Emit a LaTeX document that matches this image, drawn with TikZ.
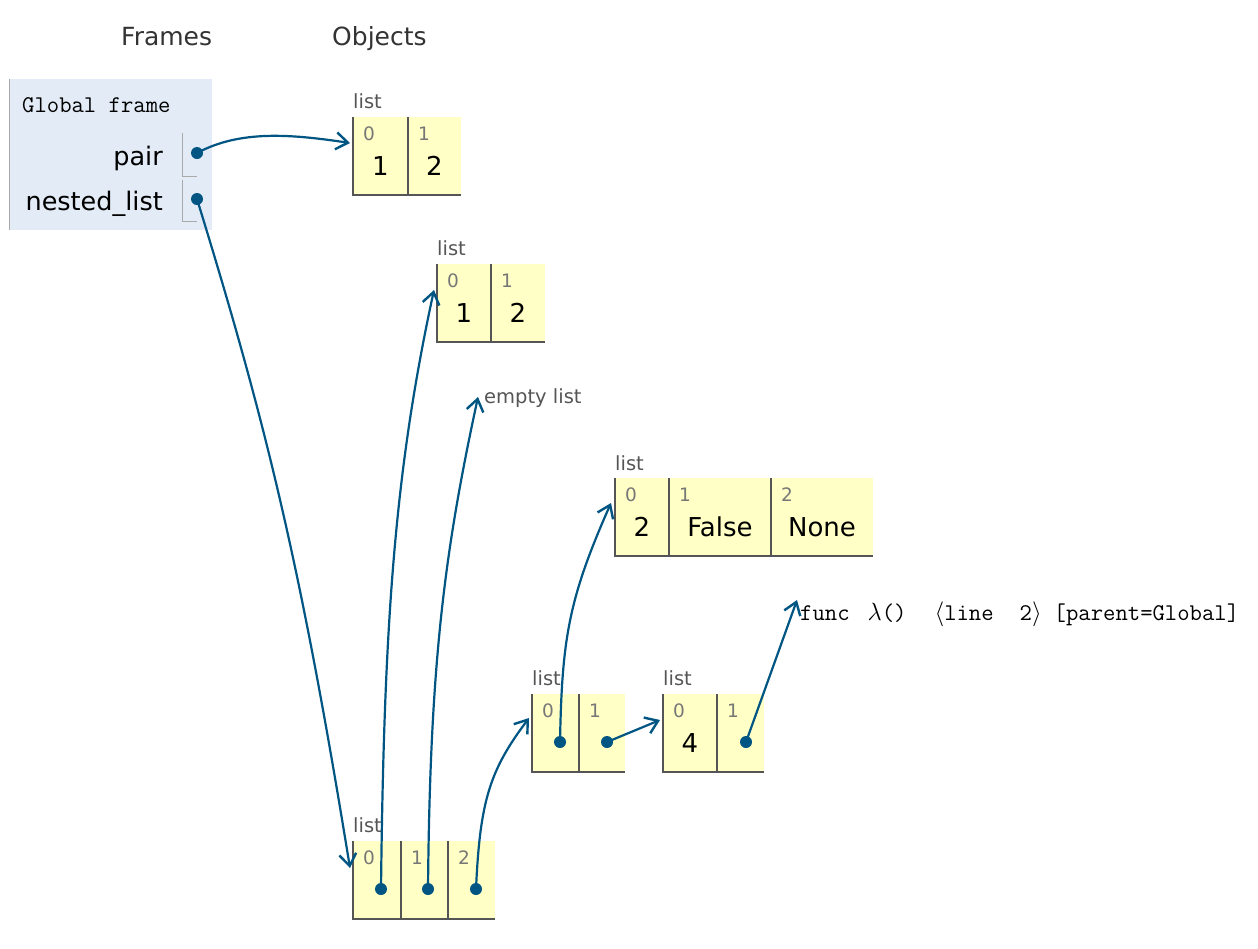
\documentclass[tikz,border=0pt]{standalone}
\usepackage{fontspec}
\setmainfont{DejaVu Sans}
\setmonofont{Latin Modern Mono}
\usetikzlibrary{arrows.meta}
\definecolor{cellfill}{HTML}{FFFFC6}
\definecolor{cellborder}{HTML}{555555}
\definecolor{idxcol}{HTML}{777777}
\definecolor{framefill}{HTML}{E2EBF6}
\definecolor{framegray}{HTML}{AAAAAA}
\definecolor{ptr}{HTML}{005583}
\definecolor{headcol}{HTML}{333333}
\tikzset{
  cellnode/.style={anchor=north west, fill=cellfill, minimum height=78pt, inner sep=0pt, outer sep=0pt},
  cellline/.style={draw=cellborder, line width=1.3pt},
  idx/.style={text=idxcol, font=\fontsize{18.5}{20}\selectfont, inner sep=0pt},
  val/.style={text=black, font=\fontsize{26}{30}\selectfont, inner sep=0pt},
  lbl/.style={text=cellborder, font=\fontsize{19.5}{22}\selectfont, inner sep=0pt, anchor=base west},
  head/.style={text=headcol, font=\fontsize{25}{28}\selectfont, inner sep=0pt, anchor=base west},
  varname/.style={text=black, font=\fontsize{25.5}{28}\selectfont, inner sep=0pt, anchor=base east},
  ptrline/.style={draw=ptr, line width=2.2pt, -{Straight Barb[length=12pt,width=17pt,line width=2.4pt]}},
  ptrdot/.style={circle, fill=ptr, minimum size=12pt, inner sep=0pt},
  monotext/.style={text=black, font=\fontsize{24}{27}\ttfamily, inner sep=0pt, anchor=base west}
}
\newcommand\mkcell[6]{% name, x, ytop, width, index, value
  \node[cellnode, minimum width=#4pt] (#1) at (#2,#3) {};
  \draw[cellline] (#1.north west) -- (#1.south west) -- (#1.south east);
  \node[idx] (#1i) at ([xshift=16pt,yshift=-17pt]#1.north west) {#5};
  \node[val] (#1v) at ([yshift=-49pt]#1.north) {#6};
}
\begin{document}
\begin{tikzpicture}[x=1pt,y=-1pt]
\useasboundingbox (0,0) rectangle (1258,948);
% headings
\node[head] (hframes) at (121,45) {Frames};
\node[head] (hobjects) at (332,45) {Objects};
% global frame
\node[anchor=north west, fill=framefill, minimum width=203pt, minimum height=151pt, inner sep=0pt] (gf) at (9,79) {};
\draw[framegray, line width=1pt] (gf.north west) -- (gf.south west);
\node[monotext] (gftitle) at (22,112) {Global frame};
\node[varname] (vpair) at (163,165) {pair};
\node[varname] (vnested) at (163,210) {nested\_list};
\coordinate (b1t) at (182,133);
\coordinate (b1b) at (182,176);
\coordinate (b1r) at (197,176);
\coordinate (b2t) at (182,180);
\coordinate (b2b) at (182,221);
\coordinate (b2r) at (197,221);
\draw[framegray, line width=1pt] (b1t) -- (b1b) -- (b1r);
\draw[framegray, line width=1pt] (b2t) -- (b2b) -- (b2r);
\node[ptrdot] (dpair) at (197,153) {};
\node[ptrdot] (dnested) at (197,199) {};
% list 1
\node[lbl] (l1lab) at (353,108) {list};
\mkcell{la0}{353}{117}{55}{0}{1}
\mkcell{la1}{408}{117}{53}{1}{2}
% list 2
\node[lbl] (l2lab) at (437,255) {list};
\mkcell{lb0}{437}{264}{54}{0}{1}
\mkcell{lb1}{491}{264}{54}{1}{2}
% empty list
\node[lbl] (empty) at (484,403) {empty list};
% list 3
\node[lbl] (l3lab) at (615,470) {list};
\mkcell{lc0}{615}{478}{54}{0}{2}
\mkcell{lc1}{669}{478}{102}{1}{False}
\mkcell{lc2}{771}{478}{102}{2}{None}
% list 4
\node[lbl] (l4lab) at (532,685) {list};
\mkcell{ld0}{532}{694}{47}{0}{}
\mkcell{ld1}{579}{694}{46}{1}{}
% list 5
\node[lbl] (l5lab) at (663,685) {list};
\mkcell{le0}{663}{694}{54}{0}{4}
\mkcell{le1}{717}{694}{47}{1}{}
% func
\node[monotext] (func) at (800,620) {func\hspace{18pt}$\lambda$()\hspace{28pt}$\langle$line\hspace{26pt}2$\rangle$\hspace{12pt}[parent=Global]};
% bottom list
\node[lbl] (l6lab) at (353,832) {list};
\mkcell{lf0}{353}{841}{48}{0}{}
\mkcell{lf1}{401}{841}{47}{1}{}
\mkcell{lf2}{448}{841}{47}{2}{}
% dots
\node[ptrdot] (df0) at (381,889) {};
\node[ptrdot] (df1) at (428,889) {};
\node[ptrdot] (df2) at (476,889) {};
\node[ptrdot] (dd0) at (560,742) {};
\node[ptrdot] (dd1) at (607,742) {};
\node[ptrdot] (de1) at (746,742) {};
% targets
\coordinate (tla) at (350,143);
\coordinate (tlf) at (350,868);
\coordinate (tlb) at (434,290);
\coordinate (tempty) at (478,397);
\coordinate (tld) at (529,718);
\coordinate (tlc) at (611,503);
\coordinate (tle) at (660,720);
\coordinate (tfunc) at (797,600);
% pointers
\draw[ptrline] (dpair.center) .. controls (240,130) and (290,134) .. (tla);
\draw[ptrline] (dnested.center) .. controls (265,420) and (300,560) .. (tlf);
\draw[ptrline] (df0.center) .. controls (384,620) and (395,470) .. (tlb);
\draw[ptrline] (df1.center) .. controls (430,660) and (445,550) .. (tempty);
\draw[ptrline] (df2.center) .. controls (480,800) and (490,770) .. (tld);
\draw[ptrline] (dd0.center) .. controls (562,640) and (568,600) .. (tlc);
\draw[ptrline] (dd1.center) -- (tle);
\draw[ptrline] (de1.center) -- (tfunc);
\end{tikzpicture}
\end{document}
